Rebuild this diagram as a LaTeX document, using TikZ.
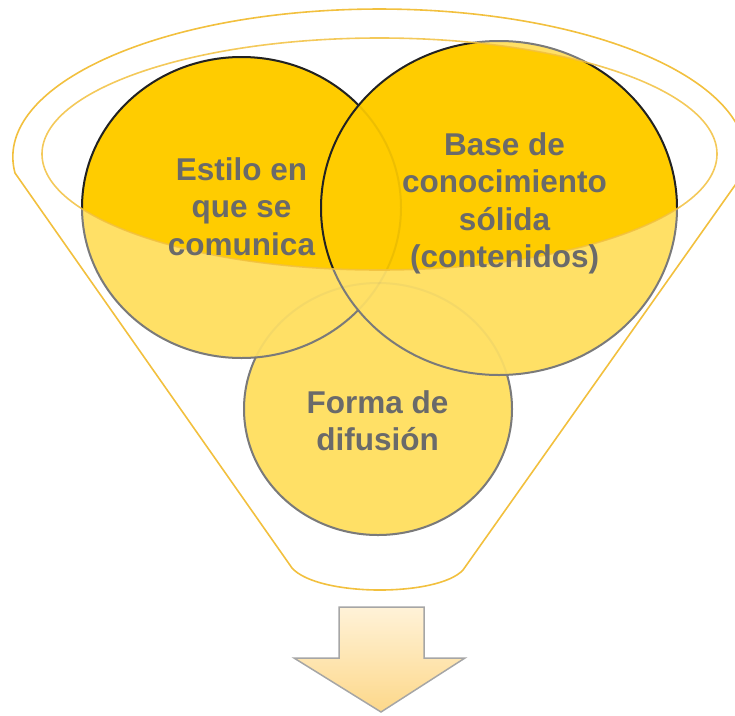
\documentclass[tikz,border=0pt]{standalone}
\usepackage{fontspec}
\setmainfont{Liberation Sans}
\definecolor{circfill}{HTML}{FFCC00}
\definecolor{circline}{HTML}{222222}
\definecolor{funnelc}{HTML}{F2C03E}
\definecolor{txt}{HTML}{6A6A6A}
\definecolor{arrtop}{HTML}{FFF2D8}
\definecolor{arrbot}{HTML}{FDD88A}
\definecolor{arrline}{HTML}{A6A6A6}
\begin{document}
\begin{tikzpicture}[x=1pt,y=-1pt,
  circ/.style={fill=circfill, draw=circline, line width=2pt},
  ghost/.style={draw=circline, draw opacity=0.08, line width=2pt},
  funnelline/.style={draw=funnelc, line width=1.6pt},
  lbl/.style={font=\bfseries\fontsize{31.5}{37.5}\selectfont, text=txt, anchor=base, inner sep=0pt},
  arrowshape/.style={top color=arrtop, bottom color=arrbot, draw=arrline, line width=1.5pt, line join=miter}]
\useasboundingbox (0,0) rectangle (735,715);
\clip (0,0) rectangle (735,715);
% circles
\path[circ] (378,409) ellipse [x radius=134, y radius=126];
\path[circ] (241.5,207.5) ellipse [x radius=159.5, y radius=150.5];
\path[circ] (499,208) ellipse [x radius=178, y radius=167];
% faint outlines seen through
\path[ghost] (378,409) ellipse [x radius=134, y radius=126];
\path[ghost] (241.5,207.5) ellipse [x radius=159.5, y radius=150.5];
% funnel body veil
\fill[white, fill opacity=0.4, even odd rule]
  (15,173) arc[start angle=173.8, end angle=366.2, x radius=366.5, y radius=148]
  -- (463,570) .. controls (438,597) and (318,597) .. (292,568) -- cycle
  (379.5,154) ellipse [x radius=337.5, y radius=116];
% funnel outlines
\draw[funnelline, line join=round]
  (15,173) arc[start angle=173.8, end angle=366.2, x radius=366.5, y radius=148]
  -- (463,570) .. controls (438,597) and (318,597) .. (292,568) -- cycle;
\draw[funnelline, draw opacity=0.85] (379.5,154) ellipse [x radius=337.5, y radius=116];
% texts
\node[lbl] (e1) at (241.5,180) {Estilo en};
\node[lbl] (e2) at (241.5,217.5) {que se};
\node[lbl] (e3) at (241.5,255) {comunica};
\node[lbl] (b1) at (504.5,155) {Base de};
\node[lbl] (b2) at (504.5,192.5) {conocimiento};
\node[lbl] (b3) at (504.5,230) {sólida};
\node[lbl] (b4) at (504.5,267.5) {(contenidos)};
\node[lbl] (f1) at (377.5,413) {Forma de};
\node[lbl] (f2) at (377.5,450.5) {difusión};
% arrow
\path[arrowshape] (339,607) -- (424,607) -- (424,658) -- (465,658) -- (381,712)
  -- (294,658) -- (339,658) -- cycle;
\end{tikzpicture}
\end{document}
